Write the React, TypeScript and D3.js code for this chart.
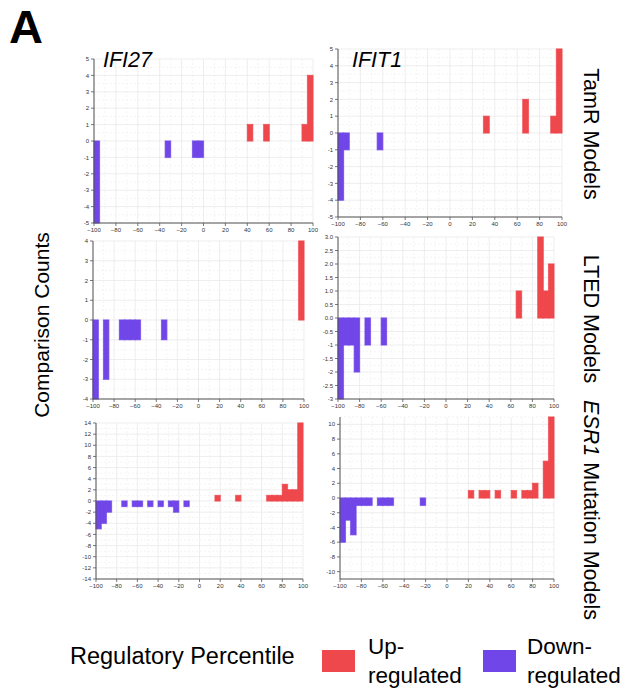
import React from 'react';
import * as d3 from 'd3';

const RED = '#ee474c';
const PURPLE = '#7046e8';
const BIN = 5;

type Bin = [number, number];

// [bin start percentile, comparison count]
const tamrIFI27Up: Bin[] = [[40, 1], [55, 1], [90, 1], [95, 4]];
const tamrIFI27Down: Bin[] = [[-100, -5], [-35, -1], [-10, -1], [-5, -1]];
const tamrIFIT1Up: Bin[] = [[30, 1], [65, 2], [90, 1], [95, 5]];
const tamrIFIT1Down: Bin[] = [[-100, -4], [-95, -1], [-65, -1]];
const ltedIFI27Up: Bin[] = [[95, 4]];
const ltedIFI27Down: Bin[] = [[-100, -4], [-90, -3], [-75, -1], [-70, -1], [-65, -1], [-60, -1], [-35, -1]];
const ltedIFIT1Up: Bin[] = [[65, 1], [85, 3], [90, 1], [95, 2]];
const ltedIFIT1Down: Bin[] = [[-100, -3], [-95, -1], [-90, -1], [-85, -2], [-75, -1], [-60, -1]];
const esr1IFI27Up: Bin[] = [[15, 1], [35, 1], [65, 1], [70, 1], [75, 1], [80, 3], [85, 2], [90, 2], [95, 14]];
const esr1IFI27Down: Bin[] = [[-100, -5], [-95, -4], [-90, -2], [-75, -1], [-65, -1], [-60, -1], [-50, -1], [-40, -1], [-30, -1], [-25, -2], [-15, -1]];
const esr1IFIT1Up: Bin[] = [[20, 1], [30, 1], [35, 1], [45, 1], [60, 1], [70, 1], [75, 1], [80, 2], [90, 5], [95, 11]];
const esr1IFIT1Down: Bin[] = [[-100, -6], [-95, -3], [-90, -5], [-85, -1], [-80, -1], [-75, -1], [-65, -1], [-60, -1], [-55, -1], [-25, -1]];

const xTicks = [-100, -80, -60, -40, -20, 0, 20, 40, 60, 80, 100];
const ticks5 = [-5, -4, -3, -2, -1, 0, 1, 2, 3, 4, 5];
const ticks4 = [-4, -3, -2, -1, 0, 1, 2, 3, 4];
const ticks3 = [-3, -2.5, -2, -1.5, -1, -0.5, 0, 0.5, 1, 1.5, 2, 2.5, 3];
const ticks3Labels = ['-3', '-2.5', '-2', '-1.5', '-1', '-0.5', '0.0', '0.5', '1.0', '1.5', '2.0', '2.5', '3.0'];
const ticks14 = [-14, -12, -10, -8, -6, -4, -2, 0, 2, 4, 6, 8, 10, 12, 14];
const ticks10 = [-10, -8, -6, -4, -2, 0, 2, 4, 6, 8, 10];

const geneLabels = ['IFI27', 'IFIT1'];

interface PanelCfg {
  up: Bin[];
  down: Bin[];
  domain: [number, number];
  ticks: number[];
  labels?: string[];
  minorStep: number;
  left: number;
  right: number;
  top: number;
  bottom: number;
}

const panels: PanelCfg[] = [
  { up: tamrIFI27Up, down: tamrIFI27Down, domain: [-5, 5], ticks: ticks5, minorStep: 0.5, left: 94, right: 313, top: 59, bottom: 223 },
  { up: tamrIFIT1Up, down: tamrIFIT1Down, domain: [-5, 5], ticks: ticks5, minorStep: 0.5, left: 338, right: 562, top: 49, bottom: 217 },
  { up: ltedIFI27Up, down: ltedIFI27Down, domain: [-4, 4], ticks: ticks4, minorStep: 0.5, left: 93, right: 304, top: 241, bottom: 399 },
  { up: ltedIFIT1Up, down: ltedIFIT1Down, domain: [-3, 3], ticks: ticks3, labels: ticks3Labels, minorStep: 0.25, left: 338, right: 554, top: 237, bottom: 399 },
  { up: esr1IFI27Up, down: esr1IFI27Down, domain: [-14, 14], ticks: ticks14, minorStep: 1, left: 96, right: 303, top: 423, bottom: 579 },
  { up: esr1IFIT1Up, down: esr1IFIT1Down, domain: [-11, 11], ticks: ticks10, minorStep: 1, left: 340, right: 554, top: 417, bottom: 579 },
];

const FONT = '"Liberation Sans", Arial, Helvetica, sans-serif';

function Panel({ cfg }: { cfg: PanelCfg }) {
  const x = d3.scaleLinear().domain([-100, 100]).range([cfg.left, cfg.right]);
  const y = d3.scaleLinear().domain(cfg.domain).range([cfg.bottom, cfg.top]);
  const minor = d3.range(cfg.domain[0], cfg.domain[1] + 1e-9, cfg.minorStep);
  const xMinor = d3.range(-100, 100.001, 10);
  const bars = [
    ...cfg.up.map((b) => ({ b, c: RED })),
    ...cfg.down.map((b) => ({ b, c: PURPLE })),
  ];
  const rect = (b: Bin) => {
    const x0 = x(b[0]);
    const x1 = x(b[0] + BIN);
    const y0 = y(Math.max(0, b[1]));
    const y1 = y(Math.min(0, b[1]));
    return { x: x0, y: y0, width: x1 - x0, height: y1 - y0 };
  };
  return (
    <g>
      {xMinor.map((v) => (
        <line key={'vx' + v} x1={x(v)} x2={x(v)} y1={cfg.top} y2={cfg.bottom}
          stroke={v % 20 === 0 ? '#e6e6e6' : '#efefef'} strokeWidth={0.7}
          strokeDasharray={v % 20 === 0 ? undefined : '2,2'} />
      ))}
      {minor.map((v) => (
        <line key={'hy' + v} x1={cfg.left} x2={cfg.right} y1={y(v)} y2={y(v)}
          stroke={cfg.ticks.includes(v) ? '#e6e6e6' : '#efefef'} strokeWidth={0.7}
          strokeDasharray={cfg.ticks.includes(v) ? undefined : '2,2'} />
      ))}
      {bars.map(({ b, c }, i) => {
        const r = rect(b);
        return <rect key={'s' + i} {...r} fill="none" stroke={c} strokeOpacity={0.3} strokeWidth={1.6} />;
      })}
      {bars.map(({ b, c }, i) => {
        const r = rect(b);
        return <rect key={'f' + i} {...r} fill={c} stroke={c} strokeWidth={0.6} />;
      })}
      <line x1={cfg.left} x2={cfg.left} y1={cfg.top} y2={cfg.bottom} stroke="#555" strokeWidth={1} />
      <line x1={cfg.left} x2={cfg.right} y1={cfg.bottom} y2={cfg.bottom} stroke="#555" strokeWidth={1} />
      {cfg.ticks.map((v, i) => (
        <g key={'yt' + v}>
          <line x1={cfg.left - 3} x2={cfg.left} y1={y(v)} y2={y(v)} stroke="#555" strokeWidth={0.8} />
          <text x={cfg.left - 5} y={y(v)} dy="0.35em" textAnchor="end" fontSize={6} fill="#333" fontFamily={FONT}>
            {cfg.labels ? cfg.labels[i] : String(v)}
          </text>
        </g>
      ))}
      {xTicks.map((v) => (
        <g key={'xt' + v}>
          <line x1={x(v)} x2={x(v)} y1={cfg.bottom} y2={cfg.bottom + 3} stroke="#555" strokeWidth={0.8} />
          <text x={x(v)} y={cfg.bottom + 9} textAnchor="middle" fontSize={6} fill="#333" fontFamily={FONT}>
            {String(v).replace('-', '\u2212')}
          </text>
        </g>
      ))}
    </g>
  );
}

export default function App() {
  return (
    <div style={{ position: 'absolute', left: 0, top: 0 }}>
      <svg width={630} height={696} style={{ display: 'block', background: '#fff' }} fontFamily={FONT}>
        <rect width={630} height={696} fill="#fff" />
        <text x={9} y={43} fontSize={47} fontWeight="bold" fill="#000">A</text>
        {panels.map((p, i) => <Panel key={i} cfg={p} />)}
        <text x={103} y={67} fontSize={21.5} fontStyle="italic" fill="#000">{geneLabels[0]}</text>
        <text x={352} y={67} fontSize={21.5} fontStyle="italic" fill="#000">{geneLabels[1]}</text>
        <text transform="translate(584,134) rotate(90)" textAnchor="middle" fontSize={21.5} fill="#000">TamR Models</text>
        <text transform="translate(584,319) rotate(90)" textAnchor="middle" fontSize={21.5} fill="#000">LTED Models</text>
        <text transform="translate(584,510) rotate(90)" textAnchor="middle" fontSize={21.5} fill="#000">
          <tspan fontStyle="italic">ESR1</tspan> Mutation Models
        </text>
        <text transform="translate(49,325) rotate(-90)" textAnchor="middle" fontSize={21} fill="#000">Comparison Counts</text>
        <text x={70} y={664} fontSize={23.5} fill="#000">Regulatory Percentile</text>
        <rect x={322} y={650} width={33} height={22} fill={RED} />
        <text x={368} y={654} fontSize={22.5} fill="#000">Up-</text>
        <text x={368} y={683} fontSize={22.5} fill="#000">regulated</text>
        <rect x={483} y={650} width={33} height={22} fill={PURPLE} />
        <text x={527} y={654} fontSize={22.5} fill="#000">Down-</text>
        <text x={527} y={683} fontSize={22.5} fill="#000">regulated</text>
      </svg>
    </div>
  );
}
